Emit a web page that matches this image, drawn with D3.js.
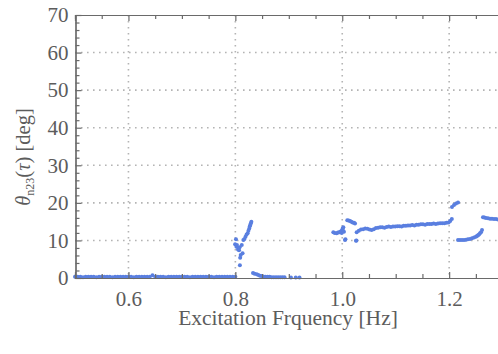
<!DOCTYPE html>
<html>
<head>
<meta charset="utf-8">
<script src="https://cdn.jsdelivr.net/npm/d3@7"></script>
<style>
  body { margin: 0; background: #fff; }
  svg { display: block; font-family: "Liberation Serif", "Times New Roman", serif; }
</style>
</head>
<body>
<svg width="498" height="354"></svg>
<script>
// ---- data (frequency in Hz, angle in deg) ----
var freqA = [0.500,0.505,0.510,0.515,0.520,0.525,0.530,0.535,0.540,0.545,0.550,0.555,0.560,0.565,0.570,0.575,0.580,0.585,0.590,0.595,0.600,0.605,0.610,0.615,0.620,0.625,0.630,0.635,0.640,0.645,0.650,0.655,0.660,0.665,0.670,0.675,0.680,0.685,0.690,0.695,0.700,0.705,0.710,0.715,0.720,0.725,0.730,0.735,0.740,0.745,0.750,0.755,0.760,0.765,0.770,0.775,0.780,0.785,0.790,0.795,0.800];
var thetaA = [0.3,0.3,0.3,0.2,0.3,0.3,0.3,0.3,0.2,0.3,0.3,0.3,0.3,0.3,0.2,0.3,0.3,0.3,0.3,0.3,0.3,0.3,0.2,0.3,0.3,0.3,0.3,0.3,0.3,0.7,0.3,0.3,0.3,0.3,0.2,0.3,0.3,0.3,0.3,0.3,0.3,0.3,0.3,0.2,0.3,0.3,0.3,0.3,0.3,0.3,0.3,0.3,0.2,0.3,0.3,0.3,0.3,0.3,0.3,0.3,0.3];

var freqB = [0.8012,0.7995,0.8020,0.8030,0.8050,0.8070,0.8080,0.8085,0.8100,0.8135,0.8090,0.8120,0.8150,0.8170,0.8190,0.8210,0.8230,0.8245,0.8260,0.8270,0.8280,0.8290,0.8300];
var thetaB = [10.3,9.0,8.3,8.8,7.6,7.4,8.2,3.4,6.1,6.6,5.4,8.8,10.1,10.4,11.0,11.6,11.9,12.6,13.2,13.8,14.1,14.6,15.0];

var freqC = [0.833,0.836,0.840,0.843,0.846,0.849,0.852,0.856,0.860,0.864,0.868,0.872,0.876,0.880,0.884,0.888,0.892,0.904,0.913,0.920];
var thetaC = [1.3,1.1,1.0,0.8,0.6,0.5,0.4,0.3,0.3,0.3,0.2,0.2,0.2,0.2,0.2,0.2,0.2,0.1,0.1,0.1];

var freqD = [0.9833,0.9860,0.9896,0.9920,0.9945,0.9970,0.9989,1.0008,1.0020,1.0032,0.9990,1.0015];
var thetaD = [12.2,12.0,11.9,12.1,12.2,12.4,12.6,13.2,13.5,12.3,12.0,12.6];

var freqE = [1.0051,1.0060,1.0257,1.0265];
var thetaE = [10.1,10.3,9.9,10.0];

var freqF = [1.0094,1.0120,1.0145,1.0170,1.0194,1.0220,1.0239];
var thetaF = [15.4,15.3,15.2,15.0,14.8,14.7,14.5];

var freqG = [1.027,1.031,1.035,1.039,1.043,1.047,1.051,1.055,1.059,1.063,1.067,1.071,1.075,1.079,1.083,1.087,1.091,1.095,1.099,1.103,1.107,1.111,1.115,1.119,1.123,1.127,1.131,1.135,1.139,1.143,1.147,1.151,1.155,1.159,1.163,1.167,1.171,1.175,1.179,1.183,1.187,1.191,1.195,1.199,1.202,1.205];
var thetaG = [12.2,12.6,12.9,13.0,13.2,13.1,12.9,12.8,13.0,13.3,13.4,13.5,13.5,13.4,13.6,13.7,13.6,13.7,13.7,13.8,13.8,13.7,13.9,13.9,14.0,14.0,14.1,14.0,14.2,14.2,14.3,14.3,14.2,14.4,14.4,14.4,14.5,14.4,14.5,14.6,14.6,14.6,14.7,14.8,15.2,15.7];

var freqH = [1.2053,1.2091,1.2128,1.2166];
var thetaH = [18.9,19.4,19.8,20.1];

var freqI = [1.2166,1.2203,1.2240,1.2278,1.2315,1.2352,1.2390,1.2428,1.2465,1.2500,1.2521,1.2540,1.2558,1.2577,1.2596,1.2615];
var thetaI = [10.1,10.1,10.1,10.1,10.2,10.3,10.4,10.6,10.8,11.0,11.2,11.4,11.6,11.9,12.2,12.8];

var freqJ = [1.2633,1.2660,1.2690,1.2727,1.2764,1.2800,1.2839,1.2877,1.2914,1.2950];
var thetaJ = [16.2,16.1,16.0,15.9,15.8,15.8,15.7,15.7,15.6,15.6];

var xMajor = [0.6, 0.8, 1.0, 1.2];
var xMinor = [0.55,0.65,0.7,0.75,0.85,0.9,0.95,1.05,1.1,1.15,1.25];
var yMajor = [0, 10, 20, 30, 40, 50, 60, 70];
var yMinor = [2,4,6,8,12,14,16,18,22,24,26,28,32,34,36,38,42,44,46,48,52,54,56,58,62,64,66,68];

// ---- layout ----
var plotLeft = 75, plotTop = 15, plotBottom = 278;
var xScale = d3.scaleLinear().domain([0.5, 1.3]).range([plotLeft, plotLeft + 0.8 * 534.5]);
var yScale = d3.scaleLinear().domain([0, 70]).range([plotBottom, plotTop]);

var svg = d3.select("svg");
var textCol = "#5c5c5c", axisCol = "#6a6a6a";

// grid lines (dotted)
svg.append("g").selectAll("line").data(xMajor).enter().append("line")
  .attr("x1", d => xScale(d)).attr("x2", d => xScale(d))
  .attr("y1", plotTop).attr("y2", plotBottom)
  .attr("stroke", "#b4b4b4").attr("stroke-width", 1.6).attr("stroke-dasharray", "1.6,4.4");
svg.append("g").selectAll("line").data(yMajor.filter(d => d > 0 && d < 70)).enter().append("line")
  .attr("y1", d => yScale(d)).attr("y2", d => yScale(d))
  .attr("x1", plotLeft).attr("x2", 498)
  .attr("stroke", "#b4b4b4").attr("stroke-width", 1.6).attr("stroke-dasharray", "1.6,4.4");

// points
var series = [[freqA,thetaA],[freqB,thetaB],[freqC,thetaC],[freqD,thetaD],[freqE,thetaE],
              [freqF,thetaF],[freqG,thetaG],[freqH,thetaH],[freqI,thetaI],[freqJ,thetaJ]];
var pts = [];
series.forEach(function(s){
  for (let i = 0; i < s[0].length; i++) pts.push({x: s[0][i], y: s[1][i]});
});
svg.append("g").selectAll("circle").data(pts).enter().append("circle")
  .attr("cx", d => xScale(d.x)).attr("cy", d => yScale(d.y))
  .attr("r", 2).attr("fill", "#5a7fe0");

// axes
function styleAxis(g) {
  g.select(".domain").attr("stroke", axisCol).attr("stroke-width", 1.2);
  g.selectAll(".tick line").attr("stroke", axisCol).attr("stroke-width", 1.2);
  g.selectAll(".tick text").attr("fill", textCol).attr("font-size", 21)
    .attr("font-family", "Liberation Serif, Times New Roman, serif");
}

var gx = svg.append("g").attr("transform", "translate(0," + plotBottom + ")")
  .call(d3.axisBottom(xScale).tickValues(xMajor).tickSize(-6).tickPadding(13).tickFormat(d3.format(".1f")));
styleAxis(gx);
var gxm = svg.append("g").attr("transform", "translate(0," + plotBottom + ")")
  .call(d3.axisBottom(xScale).tickValues(xMinor).tickSize(-4).tickFormat(""));
styleAxis(gxm);

var gt = svg.append("g").attr("transform", "translate(0," + plotTop + ")")
  .call(d3.axisTop(xScale).tickValues(xMajor).tickSize(-6).tickFormat(""));
styleAxis(gt);
var gtm = svg.append("g").attr("transform", "translate(0," + plotTop + ")")
  .call(d3.axisTop(xScale).tickValues(xMinor).tickSize(-4).tickFormat(""));
styleAxis(gtm);

var gy = svg.append("g").attr("transform", "translate(" + (plotLeft + 0.5) + ",0)")
  .call(d3.axisLeft(yScale).tickValues(yMajor).tickSize(-6).tickPadding(7).tickFormat(d3.format("d")));
styleAxis(gy);
var gym = svg.append("g").attr("transform", "translate(" + (plotLeft + 0.5) + ",0)")
  .call(d3.axisLeft(yScale).tickValues(yMinor).tickSize(-4).tickFormat(""));
styleAxis(gym);

// axis titles
svg.append("text")
  .attr("x", 288).attr("y", 325)
  .attr("text-anchor", "middle").attr("font-size", 21.5).attr("fill", textCol)
  .text("Excitation Frquency [Hz]");

var yl = svg.append("text")
  .attr("transform", "translate(30,157) rotate(-90)")
  .attr("text-anchor", "middle").attr("font-size", 20.5).attr("fill", textCol);
yl.append("tspan").attr("font-style", "italic").text("θ");
yl.append("tspan").attr("font-size", 12).attr("dy", 4).text("n23");
yl.append("tspan").attr("dy", -4).text("(");
yl.append("tspan").attr("font-style", "italic").text("τ");
yl.append("tspan").text(") [deg]");
</script>
</body>
</html>
